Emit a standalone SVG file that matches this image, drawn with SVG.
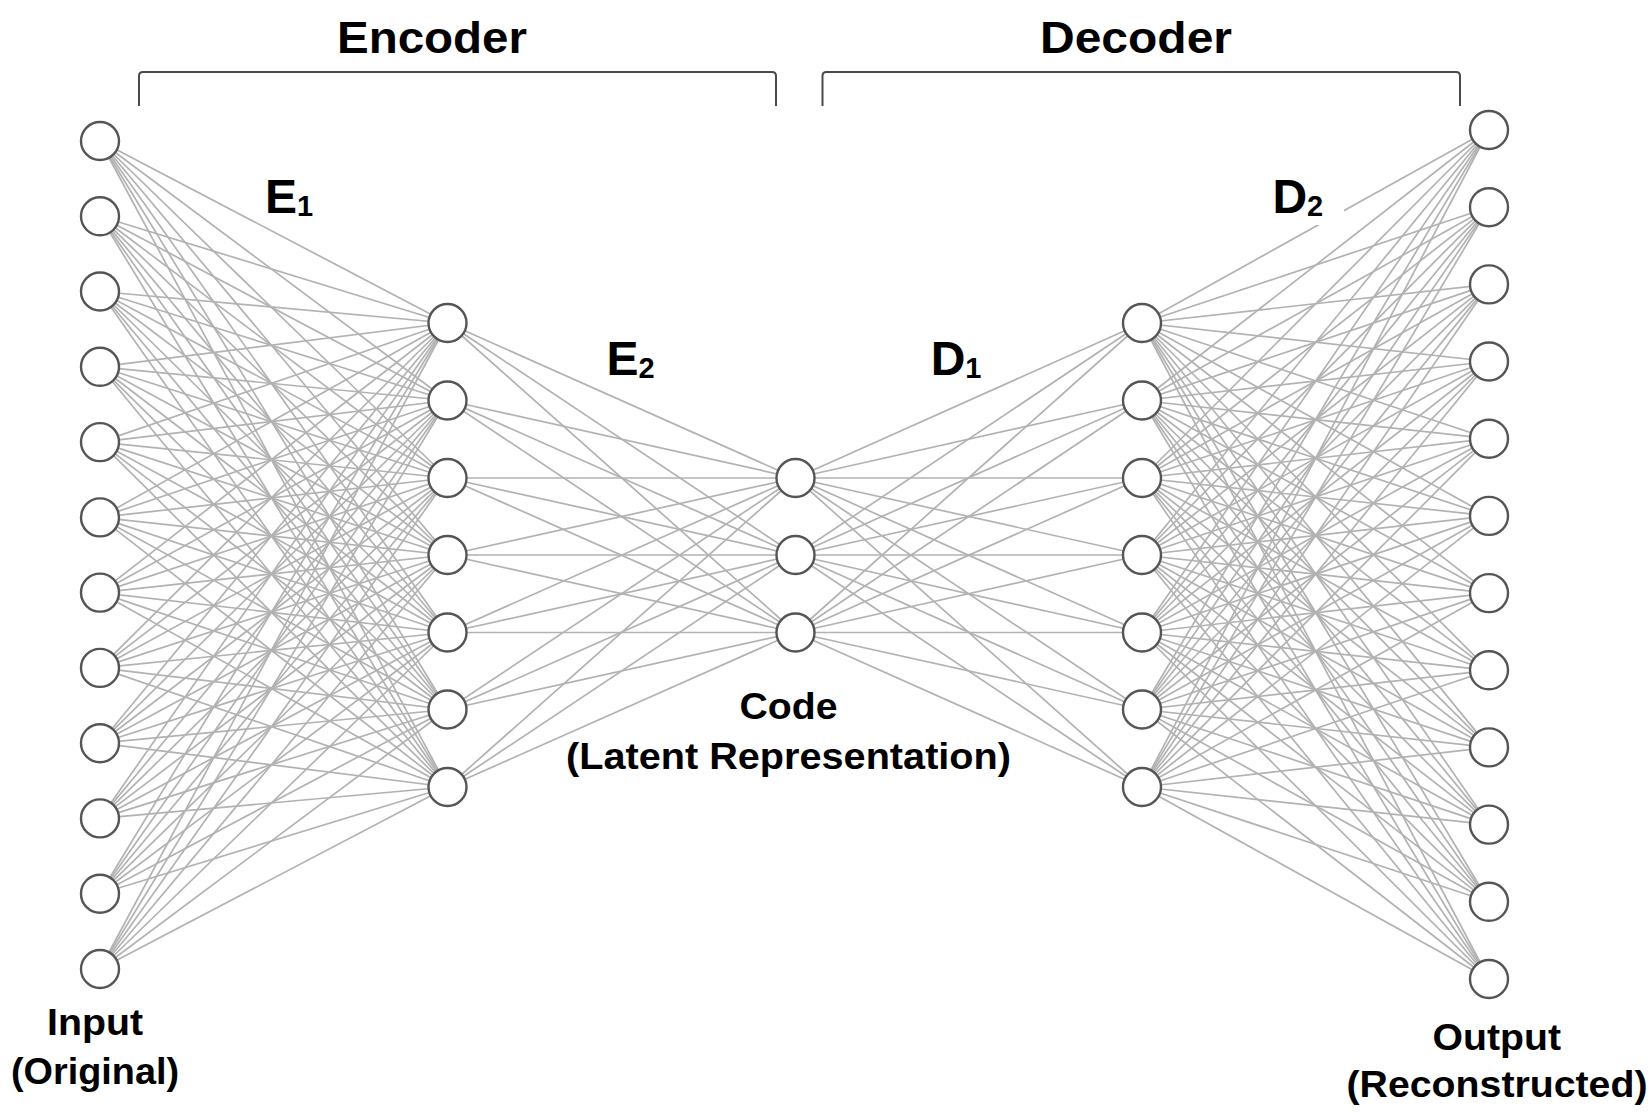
<svg xmlns="http://www.w3.org/2000/svg" width="1652" height="1116" viewBox="0 0 1652 1116">
<style>
.n{fill:#fff;stroke:#555;stroke-width:2.4}
#connectors path{stroke:#b2b2b2;stroke-width:1.7;fill:none}
.br{fill:none;stroke:#4a4a4a;stroke-width:2}
.t{font-family:"Liberation Sans",Arial,Helvetica,sans-serif;font-weight:bold;fill:#000}
.h{font-size:45px}
.l{font-size:48px}
.s{font-size:29px}
.c{font-size:37px}
</style>
<rect width="1652" height="1116" fill="#fff"/>
<g id="brackets">
<path class="br" d="M139 106V76Q139 72 143 72H772Q776 72 776 76V106"/>
<path class="br" d="M822.5 106V76Q822.5 72 826.5 72H1456Q1460 72 1460 76V106"/>
</g>
<g id="connectors">
<path d="M100 141 447.5 323"/><path d="M100 141 447.5 400.5"/><path d="M100 141 447.5 478"/><path d="M100 141 447.5 555"/><path d="M100 141 447.5 632.5"/><path d="M100 141 447.5 709.5"/><path d="M100 141 447.5 787"/>
<path d="M100 216.3 447.5 323"/><path d="M100 216.3 447.5 400.5"/><path d="M100 216.3 447.5 478"/><path d="M100 216.3 447.5 555"/><path d="M100 216.3 447.5 632.5"/><path d="M100 216.3 447.5 709.5"/><path d="M100 216.3 447.5 787"/>
<path d="M100 291.5 447.5 323"/><path d="M100 291.5 447.5 400.5"/><path d="M100 291.5 447.5 478"/><path d="M100 291.5 447.5 555"/><path d="M100 291.5 447.5 632.5"/><path d="M100 291.5 447.5 709.5"/><path d="M100 291.5 447.5 787"/>
<path d="M100 366.8 447.5 323"/><path d="M100 366.8 447.5 400.5"/><path d="M100 366.8 447.5 478"/><path d="M100 366.8 447.5 555"/><path d="M100 366.8 447.5 632.5"/><path d="M100 366.8 447.5 709.5"/><path d="M100 366.8 447.5 787"/>
<path d="M100 442.1 447.5 323"/><path d="M100 442.1 447.5 400.5"/><path d="M100 442.1 447.5 478"/><path d="M100 442.1 447.5 555"/><path d="M100 442.1 447.5 632.5"/><path d="M100 442.1 447.5 709.5"/><path d="M100 442.1 447.5 787"/>
<path d="M100 517.4 447.5 323"/><path d="M100 517.4 447.5 400.5"/><path d="M100 517.4 447.5 478"/><path d="M100 517.4 447.5 555"/><path d="M100 517.4 447.5 632.5"/><path d="M100 517.4 447.5 709.5"/><path d="M100 517.4 447.5 787"/>
<path d="M100 592.6 447.5 323"/><path d="M100 592.6 447.5 400.5"/><path d="M100 592.6 447.5 478"/><path d="M100 592.6 447.5 555"/><path d="M100 592.6 447.5 632.5"/><path d="M100 592.6 447.5 709.5"/><path d="M100 592.6 447.5 787"/>
<path d="M100 667.9 447.5 323"/><path d="M100 667.9 447.5 400.5"/><path d="M100 667.9 447.5 478"/><path d="M100 667.9 447.5 555"/><path d="M100 667.9 447.5 632.5"/><path d="M100 667.9 447.5 709.5"/><path d="M100 667.9 447.5 787"/>
<path d="M100 743.2 447.5 323"/><path d="M100 743.2 447.5 400.5"/><path d="M100 743.2 447.5 478"/><path d="M100 743.2 447.5 555"/><path d="M100 743.2 447.5 632.5"/><path d="M100 743.2 447.5 709.5"/><path d="M100 743.2 447.5 787"/>
<path d="M100 818.4 447.5 323"/><path d="M100 818.4 447.5 400.5"/><path d="M100 818.4 447.5 478"/><path d="M100 818.4 447.5 555"/><path d="M100 818.4 447.5 632.5"/><path d="M100 818.4 447.5 709.5"/><path d="M100 818.4 447.5 787"/>
<path d="M100 893.7 447.5 323"/><path d="M100 893.7 447.5 400.5"/><path d="M100 893.7 447.5 478"/><path d="M100 893.7 447.5 555"/><path d="M100 893.7 447.5 632.5"/><path d="M100 893.7 447.5 709.5"/><path d="M100 893.7 447.5 787"/>
<path d="M100 969 447.5 323"/><path d="M100 969 447.5 400.5"/><path d="M100 969 447.5 478"/><path d="M100 969 447.5 555"/><path d="M100 969 447.5 632.5"/><path d="M100 969 447.5 709.5"/><path d="M100 969 447.5 787"/>
<path d="M447.5 323 795.5 478"/><path d="M447.5 323 795.5 555"/><path d="M447.5 323 795.5 632.5"/>
<path d="M447.5 400.5 795.5 478"/><path d="M447.5 400.5 795.5 555"/><path d="M447.5 400.5 795.5 632.5"/>
<path d="M447.5 478 795.5 478"/><path d="M447.5 478 795.5 555"/><path d="M447.5 478 795.5 632.5"/>
<path d="M447.5 555 795.5 478"/><path d="M447.5 555 795.5 555"/><path d="M447.5 555 795.5 632.5"/>
<path d="M447.5 632.5 795.5 478"/><path d="M447.5 632.5 795.5 555"/><path d="M447.5 632.5 795.5 632.5"/>
<path d="M447.5 709.5 795.5 478"/><path d="M447.5 709.5 795.5 555"/><path d="M447.5 709.5 795.5 632.5"/>
<path d="M447.5 787 795.5 478"/><path d="M447.5 787 795.5 555"/><path d="M447.5 787 795.5 632.5"/>
<path d="M795.5 478 1142 323"/><path d="M795.5 478 1142 400.5"/><path d="M795.5 478 1142 478"/><path d="M795.5 478 1142 555"/><path d="M795.5 478 1142 632.5"/><path d="M795.5 478 1142 709.5"/><path d="M795.5 478 1142 787"/>
<path d="M795.5 555 1142 323"/><path d="M795.5 555 1142 400.5"/><path d="M795.5 555 1142 478"/><path d="M795.5 555 1142 555"/><path d="M795.5 555 1142 632.5"/><path d="M795.5 555 1142 709.5"/><path d="M795.5 555 1142 787"/>
<path d="M795.5 632.5 1142 323"/><path d="M795.5 632.5 1142 400.5"/><path d="M795.5 632.5 1142 478"/><path d="M795.5 632.5 1142 555"/><path d="M795.5 632.5 1142 632.5"/><path d="M795.5 632.5 1142 709.5"/><path d="M795.5 632.5 1142 787"/>
<path d="M1142 323 1489 130"/><path d="M1142 323 1489 207.2"/><path d="M1142 323 1489 284.4"/><path d="M1142 323 1489 361.5"/><path d="M1142 323 1489 438.7"/><path d="M1142 323 1489 515.9"/><path d="M1142 323 1489 593.1"/><path d="M1142 323 1489 670.3"/><path d="M1142 323 1489 747.4"/><path d="M1142 323 1489 824.6"/><path d="M1142 323 1489 901.8"/><path d="M1142 323 1489 979"/>
<path d="M1142 400.5 1489 130"/><path d="M1142 400.5 1489 207.2"/><path d="M1142 400.5 1489 284.4"/><path d="M1142 400.5 1489 361.5"/><path d="M1142 400.5 1489 438.7"/><path d="M1142 400.5 1489 515.9"/><path d="M1142 400.5 1489 593.1"/><path d="M1142 400.5 1489 670.3"/><path d="M1142 400.5 1489 747.4"/><path d="M1142 400.5 1489 824.6"/><path d="M1142 400.5 1489 901.8"/><path d="M1142 400.5 1489 979"/>
<path d="M1142 478 1489 130"/><path d="M1142 478 1489 207.2"/><path d="M1142 478 1489 284.4"/><path d="M1142 478 1489 361.5"/><path d="M1142 478 1489 438.7"/><path d="M1142 478 1489 515.9"/><path d="M1142 478 1489 593.1"/><path d="M1142 478 1489 670.3"/><path d="M1142 478 1489 747.4"/><path d="M1142 478 1489 824.6"/><path d="M1142 478 1489 901.8"/><path d="M1142 478 1489 979"/>
<path d="M1142 555 1489 130"/><path d="M1142 555 1489 207.2"/><path d="M1142 555 1489 284.4"/><path d="M1142 555 1489 361.5"/><path d="M1142 555 1489 438.7"/><path d="M1142 555 1489 515.9"/><path d="M1142 555 1489 593.1"/><path d="M1142 555 1489 670.3"/><path d="M1142 555 1489 747.4"/><path d="M1142 555 1489 824.6"/><path d="M1142 555 1489 901.8"/><path d="M1142 555 1489 979"/>
<path d="M1142 632.5 1489 130"/><path d="M1142 632.5 1489 207.2"/><path d="M1142 632.5 1489 284.4"/><path d="M1142 632.5 1489 361.5"/><path d="M1142 632.5 1489 438.7"/><path d="M1142 632.5 1489 515.9"/><path d="M1142 632.5 1489 593.1"/><path d="M1142 632.5 1489 670.3"/><path d="M1142 632.5 1489 747.4"/><path d="M1142 632.5 1489 824.6"/><path d="M1142 632.5 1489 901.8"/><path d="M1142 632.5 1489 979"/>
<path d="M1142 709.5 1489 130"/><path d="M1142 709.5 1489 207.2"/><path d="M1142 709.5 1489 284.4"/><path d="M1142 709.5 1489 361.5"/><path d="M1142 709.5 1489 438.7"/><path d="M1142 709.5 1489 515.9"/><path d="M1142 709.5 1489 593.1"/><path d="M1142 709.5 1489 670.3"/><path d="M1142 709.5 1489 747.4"/><path d="M1142 709.5 1489 824.6"/><path d="M1142 709.5 1489 901.8"/><path d="M1142 709.5 1489 979"/>
<path d="M1142 787 1489 130"/><path d="M1142 787 1489 207.2"/><path d="M1142 787 1489 284.4"/><path d="M1142 787 1489 361.5"/><path d="M1142 787 1489 438.7"/><path d="M1142 787 1489 515.9"/><path d="M1142 787 1489 593.1"/><path d="M1142 787 1489 670.3"/><path d="M1142 787 1489 747.4"/><path d="M1142 787 1489 824.6"/><path d="M1142 787 1489 901.8"/><path d="M1142 787 1489 979"/>
</g>
<g id="input-layer">
<g id="in1"><circle class="n" cx="100" cy="141" r="19"/></g>
<g id="in2"><circle class="n" cx="100" cy="216.3" r="19"/></g>
<g id="in3"><circle class="n" cx="100" cy="291.5" r="19"/></g>
<g id="in4"><circle class="n" cx="100" cy="366.8" r="19"/></g>
<g id="in5"><circle class="n" cx="100" cy="442.1" r="19"/></g>
<g id="in6"><circle class="n" cx="100" cy="517.4" r="19"/></g>
<g id="in7"><circle class="n" cx="100" cy="592.6" r="19"/></g>
<g id="in8"><circle class="n" cx="100" cy="667.9" r="19"/></g>
<g id="in9"><circle class="n" cx="100" cy="743.2" r="19"/></g>
<g id="in10"><circle class="n" cx="100" cy="818.4" r="19"/></g>
<g id="in11"><circle class="n" cx="100" cy="893.7" r="19"/></g>
<g id="in12"><circle class="n" cx="100" cy="969" r="19"/></g>
</g>
<g id="encoder-layer">
<g id="e1"><circle class="n" cx="447.5" cy="323" r="19"/></g>
<g id="e2"><circle class="n" cx="447.5" cy="400.5" r="19"/></g>
<g id="e3"><circle class="n" cx="447.5" cy="478" r="19"/></g>
<g id="e4"><circle class="n" cx="447.5" cy="555" r="19"/></g>
<g id="e5"><circle class="n" cx="447.5" cy="632.5" r="19"/></g>
<g id="e6"><circle class="n" cx="447.5" cy="709.5" r="19"/></g>
<g id="e7"><circle class="n" cx="447.5" cy="787" r="19"/></g>
</g>
<g id="code-layer">
<g id="c1"><circle class="n" cx="795.5" cy="478" r="19"/></g>
<g id="c2"><circle class="n" cx="795.5" cy="555" r="19"/></g>
<g id="c3"><circle class="n" cx="795.5" cy="632.5" r="19"/></g>
</g>
<g id="decoder-layer">
<g id="d1"><circle class="n" cx="1142" cy="323" r="19"/></g>
<g id="d2"><circle class="n" cx="1142" cy="400.5" r="19"/></g>
<g id="d3"><circle class="n" cx="1142" cy="478" r="19"/></g>
<g id="d4"><circle class="n" cx="1142" cy="555" r="19"/></g>
<g id="d5"><circle class="n" cx="1142" cy="632.5" r="19"/></g>
<g id="d6"><circle class="n" cx="1142" cy="709.5" r="19"/></g>
<g id="d7"><circle class="n" cx="1142" cy="787" r="19"/></g>
</g>
<g id="output-layer">
<g id="out1"><circle class="n" cx="1489" cy="130" r="19"/></g>
<g id="out2"><circle class="n" cx="1489" cy="207.2" r="19"/></g>
<g id="out3"><circle class="n" cx="1489" cy="284.4" r="19"/></g>
<g id="out4"><circle class="n" cx="1489" cy="361.5" r="19"/></g>
<g id="out5"><circle class="n" cx="1489" cy="438.7" r="19"/></g>
<g id="out6"><circle class="n" cx="1489" cy="515.9" r="19"/></g>
<g id="out7"><circle class="n" cx="1489" cy="593.1" r="19"/></g>
<g id="out8"><circle class="n" cx="1489" cy="670.3" r="19"/></g>
<g id="out9"><circle class="n" cx="1489" cy="747.4" r="19"/></g>
<g id="out10"><circle class="n" cx="1489" cy="824.6" r="19"/></g>
<g id="out11"><circle class="n" cx="1489" cy="901.8" r="19"/></g>
<g id="out12"><circle class="n" cx="1489" cy="979" r="19"/></g>
</g>
<g id="labels">
<text class="t h" x="337" y="53" textLength="190" lengthAdjust="spacingAndGlyphs">Encoder</text>
<text class="t h" x="1040" y="53" textLength="192" lengthAdjust="spacingAndGlyphs">Decoder</text>
<text class="t l" x="265" y="213">E<tspan class="s" dy="3">1</tspan></text>
<text class="t l" x="606.5" y="375">E<tspan class="s" dy="3">2</tspan></text>
<text class="t l" x="930.7" y="375">D<tspan class="s" dy="3">1</tspan></text>
<rect x="1266" y="172" width="78" height="53" fill="#fff"/>
<text class="t l" x="1272.4" y="213">D<tspan class="s" dy="3">2</tspan></text>
<text class="t c" x="739.5" y="719" textLength="98" lengthAdjust="spacingAndGlyphs">Code</text>
<text class="t c" x="566" y="769" textLength="445" lengthAdjust="spacingAndGlyphs">(Latent Representation)</text>
<text class="t c" x="47" y="1035" textLength="96" lengthAdjust="spacingAndGlyphs">Input</text>
<text class="t c" x="11" y="1084" textLength="168" lengthAdjust="spacingAndGlyphs">(Original)</text>
<text class="t c" x="1432.5" y="1050" textLength="128.5" lengthAdjust="spacingAndGlyphs">Output</text>
<text class="t c" x="1346.5" y="1097" textLength="301" lengthAdjust="spacingAndGlyphs">(Reconstructed)</text>
</g>
</svg>
